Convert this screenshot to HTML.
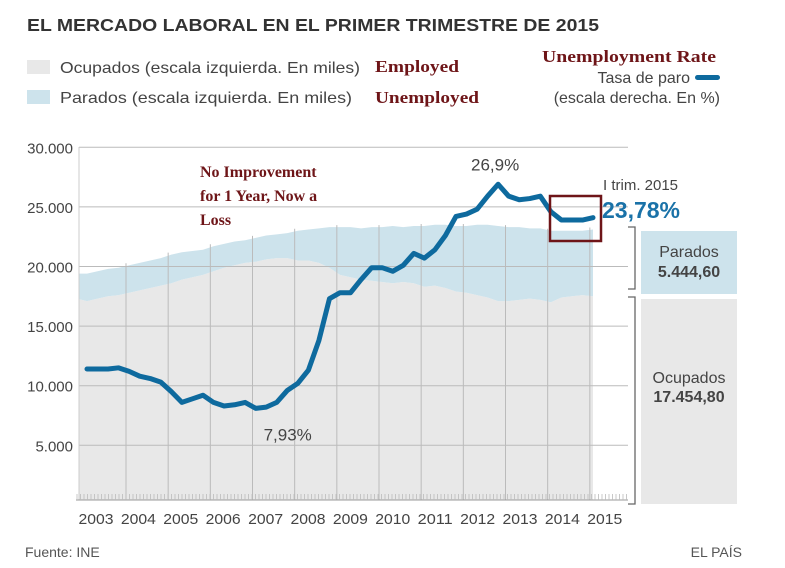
<!DOCTYPE html>
<html><head><meta charset="utf-8"><style>
body{margin:0;background:#fff;width:785px;height:568px;overflow:hidden;font-family:"Liberation Sans",sans-serif}
svg{display:block}
</style></head><body>
<svg width="785" height="568" viewBox="0 0 785 568">
<text x="27" y="31" font-size="17.5" font-weight="bold" fill="#333" textLength="572" lengthAdjust="spacingAndGlyphs">EL MERCADO LABORAL EN EL PRIMER TRIMESTRE DE 2015</text>
<rect x="27" y="60" width="23" height="14" fill="#e8e8e8"/>
<text x="60" y="73" font-size="16" fill="#444" textLength="300" lengthAdjust="spacingAndGlyphs">Ocupados (escala izquierda. En miles)</text>
<rect x="27" y="90" width="23" height="14" fill="#cde3ec"/>
<text x="60" y="103" font-size="16" fill="#444" textLength="292" lengthAdjust="spacingAndGlyphs">Parados (escala izquierda. En miles)</text>
<text x="375" y="72" font-size="17" font-weight="bold" fill="#6e1518" font-family="Liberation Serif,serif" textLength="84" lengthAdjust="spacingAndGlyphs">Employed</text>
<text x="375" y="103" font-size="17" font-weight="bold" fill="#6e1518" font-family="Liberation Serif,serif" textLength="104" lengthAdjust="spacingAndGlyphs">Unemployed</text>
<text x="542" y="62" font-size="17" font-weight="bold" fill="#6e1518" font-family="Liberation Serif,serif" textLength="174" lengthAdjust="spacingAndGlyphs">Unemployment Rate</text>
<text x="690" y="83" font-size="16" fill="#444" text-anchor="end">Tasa de paro</text>
<rect x="695" y="75" width="25" height="5" rx="2.5" fill="#0e6a9e"/>
<text x="720" y="103" font-size="16" fill="#444" text-anchor="end">(escala derecha. En %)</text>
<g id="plot"></g>
<text x="200" y="177" font-size="16" font-weight="bold" fill="#6e1518" font-family="Liberation Serif,serif">No Improvement</text>
<text x="200" y="201" font-size="16" font-weight="bold" fill="#6e1518" font-family="Liberation Serif,serif">for 1 Year, Now a</text>
<text x="200" y="225" font-size="16" font-weight="bold" fill="#6e1518" font-family="Liberation Serif,serif">Loss</text>
<rect x="550" y="196" width="51" height="45" fill="none" stroke="#6e1518" stroke-width="2.5"/>
<text x="603" y="190" font-size="15" fill="#444">I trim. 2015</text>
<text x="602" y="218" font-size="23" font-weight="bold" fill="#1a72a8">23,78%</text>
<path d="M628 227 H635 V289 H628 M628 297 H635 V504 H628" fill="none" stroke="#666" stroke-width="1.3"/>
<rect x="641" y="231" width="96" height="63" fill="#cde3ec"/>
<text x="689" y="257" font-size="16" fill="#444" text-anchor="middle">Parados</text>
<text x="689" y="277" font-size="16" font-weight="bold" fill="#444" text-anchor="middle">5.444,60</text>
<rect x="641" y="299" width="96" height="205" fill="#e8e8e8"/>
<text x="689" y="383" font-size="16" fill="#444" text-anchor="middle">Ocupados</text>
<text x="689" y="402" font-size="16" font-weight="bold" fill="#444" text-anchor="middle">17.454,80</text>
<text x="25" y="557" font-size="14" fill="#555">Fuente: INE</text>
<text x="742" y="557" font-size="14" fill="#555" text-anchor="end">EL PAÍS</text>
</svg>
<script>
const years = ["2003","2004","2005","2006","2007","2008","2009","2010","2011","2012","2013","2014","2015"];
const yTicks = [5000,10000,15000,20000,25000,30000];
const yTickLabels = ["5.000","10.000","15.000","20.000","25.000","30.000"];
const unemploymentRate = [11.4,11.4,11.4,11.5,11.2,10.8,10.6,10.3,9.5,8.6,8.9,9.2,8.6,8.3,8.4,8.6,8.1,8.2,8.6,9.6,10.2,11.3,13.8,17.3,17.8,17.8,18.9,19.9,19.9,19.6,20.1,21.1,20.7,21.4,22.6,24.2,24.4,24.8,25.9,26.9,25.9,25.6,25.7,25.9,24.6,23.9,23.9,23.9,24.1];
const employed = [17.1,17.3,17.5,17.6,17.8,18.0,18.2,18.4,18.6,18.9,19.1,19.3,19.6,19.9,20.1,20.3,20.4,20.6,20.7,20.7,20.5,20.5,20.3,19.9,19.3,19.1,18.9,18.8,18.7,18.6,18.7,18.6,18.3,18.4,18.2,17.9,17.8,17.6,17.4,17.1,17.1,17.2,17.3,17.2,17.0,17.4,17.5,17.6,17.5];
const activeTotal = [19.4,19.6,19.8,19.9,20.1,20.3,20.5,20.7,21.0,21.2,21.3,21.4,21.7,21.9,22.1,22.2,22.4,22.6,22.7,22.8,23.0,23.1,23.2,23.3,23.3,23.3,23.2,23.3,23.3,23.4,23.3,23.4,23.4,23.5,23.5,23.4,23.4,23.5,23.5,23.4,23.3,23.3,23.2,23.2,23.0,23.0,23.0,23.0,23.1];
const peakLabel = "26,9%", lowLabel = "7,93%";

const NS="http://www.w3.org/2000/svg";
const g=document.getElementById('plot');
const L=79,R=628,B=500;
const xq=i=>87+i*(593-87)/48;
const yv=v=>504.9-v*11.92/1000;
const yk=v=>yv(v*1000);
function mk(t,a){const e=document.createElementNS(NS,t);for(const k in a)e.setAttribute(k,a[k]);g.appendChild(e);return e;}
const n=employed.length;
let gray=`M${L},${B} L${L},${yk(employed[0])-2}`;
for(let i=0;i<n;i++)gray+=` L${xq(i)},${yk(employed[i])}`;
gray+=` L${xq(n-1)},${B} Z`;
let blue=`M${L},${yk(employed[0])-2} L${L},${yk(activeTotal[0])}`;
for(let i=0;i<n;i++)blue+=` L${xq(i)},${yk(activeTotal[i])}`;
for(let i=n-1;i>=0;i--)blue+=` L${xq(i)},${yk(employed[i])}`;
blue+=' Z';
let e=mk('path',{d:gray,fill:'#e8e8e8'});


e=mk('path',{d:blue,fill:'#cde3ec'});


yTicks.forEach((v,k)=>{
 const l=mk('line',{x1:L,x2:R,y1:yv(v),y2:yv(v),stroke:'#bbb','stroke-width':1});
 
 
 const t=mk('text',{x:73,y:yv(v)+6,'font-size':15,fill:'#444','text-anchor':'end'});
 t.textContent=yTickLabels[k];
 
 
});
years.forEach((yr,k)=>{
 if(k>0){const x=xq(4*k-0.3);
  const l=mk('line',{x1:x,x2:x,y1:yk(activeTotal[Math.min(n-1,4*k)])-2,y2:B,stroke:'#bbb','stroke-width':1});
  
  }
 const t=mk('text',{x:96+k*42.4,y:524,'font-size':15,fill:'#444','text-anchor':'middle',textLength:35,lengthAdjust:'spacingAndGlyphs'});
 t.textContent=yr;
 
 
});
mk('line',{x1:L,x2:L,y1:147,y2:B,stroke:'#ccc','stroke-width':1});
const ax=mk('line',{x1:L-3,x2:R,y1:B,y2:B,stroke:'#999','stroke-width':1});


for(let x=L-2;x<=R;x+=3.5){mk('line',{x1:x,x2:x,y1:B-6,y2:B,stroke:'#bbb','stroke-width':0.8});}
let d='';
unemploymentRate.forEach((r,i)=>{d+=(i?' L':'M')+xq(i)+','+yk(r);});
e=mk('path',{d:d,fill:'none',stroke:'#0e6a9e','stroke-width':5,'stroke-linejoin':'round','stroke-linecap':'round'});


const pi=unemploymentRate.indexOf(Math.max(...unemploymentRate));
const li=unemploymentRate.indexOf(Math.min(...unemploymentRate));
let t=mk('text',{x:xq(pi)-3,y:yk(unemploymentRate[pi])-14,'font-size':17,fill:'#444','text-anchor':'middle'});
t.textContent=peakLabel;


t=mk('text',{x:xq(li)+32,y:yk(unemploymentRate[li])+32,'font-size':17,fill:'#444','text-anchor':'middle'});
t.textContent=lowLabel;


</script>
</body></html>
